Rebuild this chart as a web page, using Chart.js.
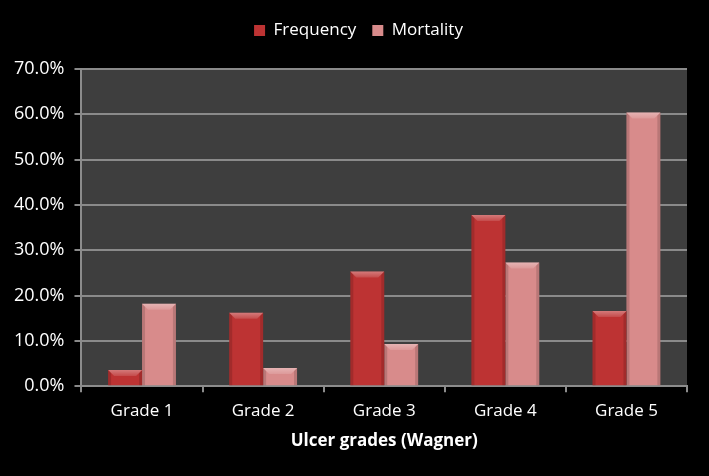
<!DOCTYPE html>
<html>
<head>
<meta charset="utf-8">
<script src="https://cdn.jsdelivr.net/npm/chart.js@4/dist/chart.umd.min.js"></script>
<style>
  html,body{margin:0;padding:0;background:#000;}
  #wrap{width:709px;height:476px;position:relative;}
</style>
</head>
<body>
<div id="wrap"><canvas id="mainChart"></canvas></div>
<script>
"use strict";
// 数据
const grades=["Grade 1","Grade 2","Grade 3","Grade 4","Grade 5"];
const frequency=[3.6,16.2,25.3,37.8,16.6];
const mortality=[18.2,4.0,9.3,27.3,60.4];
const yTicks=[0,10,20,30,40,50,60,70];

const FONT="'Open Sans', 'DejaVu Sans', sans-serif";
const FREQ_COLOR="#bd3333";
const MORT_COLOR="#d88b8b";

// 绘图区背景
const plotBg={
    id:"plotBg",
    beforeDraw(chart){
        const {ctx,chartArea:a}=chart;
        ctx.save();
        ctx.fillStyle="#000";
        ctx.fillRect(0,0,chart.width,chart.height);
        ctx.fillStyle="#3e3e3e";
        ctx.fillRect(a.left,a.top,a.right-a.left,a.bottom-a.top);
        ctx.restore();
    }
};

// 图例下方留空，并稍微右移
const legendGap={
    id:"legendGap",
    beforeInit(chart){
        const fit=chart.legend.fit;
        chart.legend.fit=function(){
            fit.call(this);
            this.height+=20;
        };
    },
    afterLayout(chart){
        chart.legend.left+=13;
        chart.legend.right+=13;
    }
};

// 柱子的斜面效果
const bevel={
    id:"bevel",
    afterDatasetsDraw(chart){
        const ctx=chart.ctx;
        chart.data.datasets.forEach((ds,i)=>{
            const meta=chart.getDatasetMeta(i);
            meta.data.forEach(bar=>{
                const {x,y,base,width}=bar.getProps(["x","y","base","width"],true);
                const l=x-width/2,r=x+width/2,h=base-y,b=Math.min(6,h/2);
                ctx.save();
                // 左右暗边
                ctx.fillStyle="rgba(0,0,0,0.14)";
                ctx.beginPath();
                ctx.moveTo(l,y);ctx.lineTo(l+3,y+3);ctx.lineTo(l+3,base);ctx.lineTo(l,base);ctx.closePath();
                ctx.fill();
                ctx.beginPath();
                ctx.moveTo(r,y);ctx.lineTo(r-3,y+3);ctx.lineTo(r-3,base);ctx.lineTo(r,base);ctx.closePath();
                ctx.fill();
                // 顶部亮斜面
                ctx.beginPath();
                ctx.moveTo(l,y);ctx.lineTo(r,y);ctx.lineTo(r-b,y+b);ctx.lineTo(l+b,y+b);ctx.closePath();
                const g=ctx.createLinearGradient(0,y,0,y+b);
                g.addColorStop(0,"rgba(255,255,255,0.35)");
                g.addColorStop(1,"rgba(255,255,255,0.12)");
                ctx.fillStyle=g;
                ctx.fill();
                ctx.restore();
            });
        });
    }
};

function barGradient(c1,c2){
    return (ctx)=>{
        const bar=ctx.element;
        if(!bar||bar.width===undefined)return c1;
        const l=bar.x-bar.width/2;
        const g=ctx.chart.ctx.createLinearGradient(l,0,l+bar.width,0);
        g.addColorStop(0,c2);g.addColorStop(0.5,c1);g.addColorStop(1,c2);
        return g;
    };
}

const data={
    labels:grades,
    datasets:[{
        label:"Frequency",
        data:frequency,
        backgroundColor:barGradient(FREQ_COLOR,"#a32b2b"),
        borderWidth:0
    },{
        label:"Mortality",
        data:mortality,
        backgroundColor:barGradient(MORT_COLOR,"#c27676"),
        borderWidth:0
    }]
};

const options={
    responsive:false,
    animation:false,
    layout:{padding:{left:4,right:22,top:6,bottom:25}},
    datasets:{bar:{categoryPercentage:0.56,barPercentage:1.0}},
    scales:{
        x:{
            grid:{drawOnChartArea:false,drawTicks:true,tickLength:6,color:"#8c8c8c",lineWidth:2,offset:true},
            border:{color:"#8c8c8c",width:2},
            ticks:{color:"#fff",font:{family:FONT,size:17},padding:9},
            title:{display:true,text:"Ulcer grades (Wagner)",color:"#fff",font:{family:FONT,size:17,weight:"bold"},padding:{top:0,bottom:0}}
        },
        y:{
            min:0,max:70,
            afterBuildTicks(axis){axis.ticks=yTicks.map(v=>({value:v}));},
            grid:{color:"#8a8a8a",lineWidth:2,tickLength:7},
            border:{color:"#8c8c8c",width:2},
            ticks:{color:"#fff",font:{family:FONT,size:18},padding:10,callback:v=>v.toFixed(1)+"%"}
        }
    },
    plugins:{
        legend:{
            position:"top",
            labels:{color:"#fff",font:{family:FONT,size:17},boxWidth:11,boxHeight:11,padding:16,
                generateLabels(chart){
                    const cols=[FREQ_COLOR,MORT_COLOR];
                    return chart.data.datasets.map((ds,i)=>({text:ds.label,fillStyle:cols[i],strokeStyle:cols[i],lineWidth:0,fontColor:"#fff",datasetIndex:i}));
                }}
        },
        tooltip:{enabled:false}
    }
};

const c=document.getElementById("mainChart");
c.width=709;c.height=476;
new Chart(c,{type:"bar",data,options,plugins:[plotBg,legendGap,bevel]});
</script>
</body>
</html>
